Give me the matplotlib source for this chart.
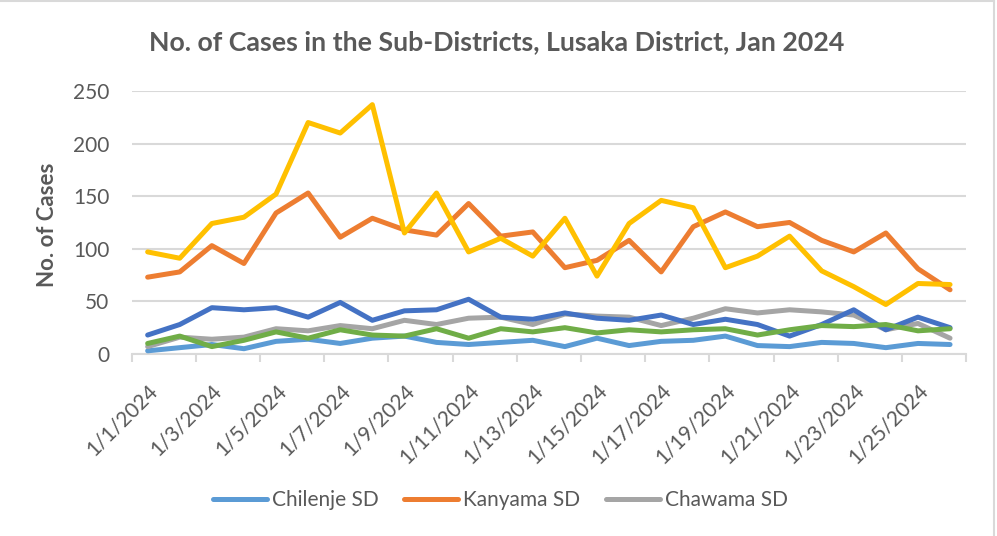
import matplotlib.pyplot as plt
from matplotlib.transforms import ScaledTranslation
from matplotlib.lines import Line2D

# data
dates = [f"1/{d}/2024" for d in range(1, 27)]
chilenje = [3, 6, 9, 5, 12, 14, 10, 15, 17, 11, 9, 11, 13, 7, 15, 8, 12, 13, 17, 8, 7, 11, 10, 6, 10, 9]
kanyama = [73, 78, 103, 86, 134, 153, 111, 129, 118, 113, 143, 112, 116, 82, 89, 108, 78, 121, 135, 121, 125, 108, 97, 115, 81, 61]
chawama = [7, 16, 14, 16, 24, 22, 27, 24, 32, 28, 34, 35, 28, 38, 36, 35, 27, 34, 43, 39, 42, 40, 37, 23, 29, 15]
matero = [97, 91, 124, 130, 152, 220, 210, 237, 115, 153, 97, 110, 93, 129, 74, 124, 146, 139, 82, 93, 112, 79, 64, 47, 67, 66]
chelstone = [18, 28, 44, 42, 44, 35, 49, 32, 41, 42, 52, 35, 33, 39, 34, 32, 37, 28, 33, 28, 17, 28, 42, 23, 35, 25]
chipata = [10, 17, 7, 13, 21, 15, 23, 18, 17, 24, 15, 24, 21, 25, 20, 23, 21, 23, 24, 18, 23, 27, 26, 28, 22, 24]

series_names = ["Chilenje SD", "Kanyama SD", "Chawama SD", "Matero SD", "Chelstone SD", "Chipata SD"]
series_vals = [chilenje, kanyama, chawama, matero, chelstone, chipata]
colors = ["#5B9BD5", "#ED7D31", "#A5A5A5", "#FFC000", "#4472C4", "#70AD47"]

plt.rcParams['font.family'] = ['Lato', 'DejaVu Sans']
txt_col = "#595959"
grid_col = "#D9D9D9"

fig = plt.figure(figsize=(9.97, 5.36), dpi=100)
ax = fig.add_axes([0.132, 0.3396, 0.837, 0.4907])

x = list(range(len(dates)))
lines = []
for i, (name, vals) in enumerate(zip(series_names, series_vals)):
    ln, = ax.plot(x, vals, color=colors[i], lw=3.6, label=name, zorder=3 + i,
                  solid_joinstyle='round', solid_capstyle='round')
    lines.append(ln)

ax.set_xlim(-0.5, len(dates) - 0.5)
ax.set_ylim(0, 250)
ax.set_yticks(range(0, 251, 50))
ax.yaxis.grid(True, color=grid_col, lw=1.5)
ax.set_axisbelow(True)
for s in ['top', 'right', 'left']:
    ax.spines[s].set_visible(False)
ax.spines['bottom'].set_color(grid_col)
ax.spines['bottom'].set_linewidth(1.5)

# labels every 2nd day, tick marks at category edges
ax.set_xticks(x[::2])
ax.set_xticklabels(dates[::2])
ax.set_xticks([v - 0.5 for v in range(0, len(dates) + 1, 2)], minor=True)
ax.tick_params(axis='x', which='major', length=0, pad=24, labelsize=15, labelcolor=txt_col)
ax.tick_params(axis='x', which='minor', length=6, width=1.5, color=grid_col)
ax.tick_params(axis='y', length=0, pad=16, labelsize=15, labelcolor=txt_col)
for lbl in ax.get_xticklabels():
    lbl.set_rotation(45)
    lbl.set_ha('right')
    lbl.set_va('center')
    lbl.set_rotation_mode('anchor')
    lbl.set_transform(lbl.get_transform() + ScaledTranslation(0.07, 0, fig.dpi_scale_trans))

fig.text(47 / 997, 1 - 225 / 536, "No. of Cases", rotation=90, ha='center', va='center',
         fontsize=16, fontweight='bold', color=txt_col)
fig.text(497 / 997, 1 - 42 / 536, "No. of Cases in the Sub-Districts, Lusaka District, Jan 2024",
         ha='center', va='center', fontsize=19.3, fontweight='bold', color=txt_col)

fig.legend(lines[:3], series_names[:3], loc='center', bbox_to_anchor=(0.502, 0.067), ncol=3,
           frameon=False, fontsize=15, labelcolor=txt_col, handlelength=2.6,
           handletextpad=0.25, columnspacing=1.2)

# chart frame: only top and right edges show in the crop
fig.lines.append(Line2D([0, 0.997], [0.998, 0.998], transform=fig.transFigure, color=grid_col, lw=1.5))
fig.lines.append(Line2D([0.997, 0.997], [0, 0.998], transform=fig.transFigure, color=grid_col, lw=1.5))

fig.savefig("out.png", dpi=100)
